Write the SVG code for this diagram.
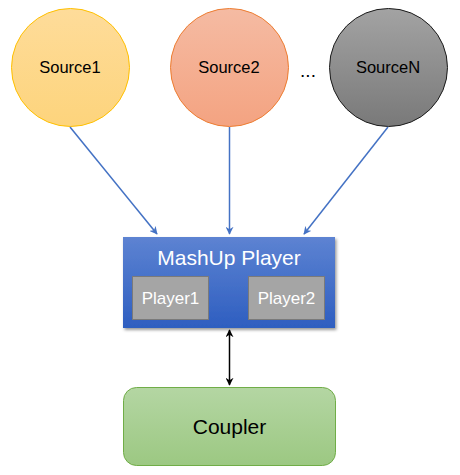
<svg xmlns="http://www.w3.org/2000/svg" width="460" height="475" viewBox="0 0 460 475">
<defs>
<linearGradient id="g1" x1="0" y1="0" x2="0" y2="1"><stop offset="0" stop-color="#FEDC9A"/><stop offset="1" stop-color="#FDD47C"/></linearGradient>
<linearGradient id="g2" x1="0" y1="0" x2="0" y2="1"><stop offset="0" stop-color="#F5BBA3"/><stop offset="1" stop-color="#F4A381"/></linearGradient>
<linearGradient id="g3" x1="0" y1="0" x2="0" y2="1"><stop offset="0" stop-color="#A3A3A3"/><stop offset="1" stop-color="#797979"/></linearGradient>
<linearGradient id="gb" x1="0" y1="0" x2="0" y2="1"><stop offset="0" stop-color="#5D83D2"/><stop offset="1" stop-color="#2E5EC0"/></linearGradient>
<linearGradient id="gg" x1="0" y1="0" x2="0" y2="1"><stop offset="0" stop-color="#B4D6A3"/><stop offset="1" stop-color="#9CC882"/></linearGradient>
<filter id="sh" x="-10%" y="-10%" width="125%" height="130%"><feDropShadow dx="1.5" dy="2" stdDeviation="1.8" flood-color="#000" flood-opacity="0.4"/></filter>
<marker id="ab" viewBox="0 0 10 10" refX="9" refY="5" markerWidth="8" markerHeight="8" markerUnits="userSpaceOnUse" orient="auto"><path d="M0,0 L10,5 L0,10 L3,5 Z" fill="#4472C4"/></marker>
<marker id="ak" viewBox="0 0 10 10" refX="9" refY="5" markerWidth="8" markerHeight="8" markerUnits="userSpaceOnUse" orient="auto-start-reverse"><path d="M0,0 L10,5 L0,10 L3,5 Z" fill="#000"/></marker>
</defs>
<style>
.t{font-family:"Liberation Sans",Arial,sans-serif;text-anchor:middle}
.src{font-size:16.5px;fill:#000}
.w{fill:#fff}
.c{stroke:#4472C4;stroke-width:1.5;fill:none;marker-end:url(#ab)}
</style>
<rect width="460" height="475" fill="#fff"/>
<g id="source1"><circle cx="70.5" cy="67.5" r="59" fill="url(#g1)" stroke="#FFC000" stroke-width="1"/><text class="t src" x="70" y="73">Source1</text></g>
<g id="source2"><circle cx="229.5" cy="67.5" r="59" fill="url(#g2)" stroke="#ED7D31" stroke-width="1"/><text class="t src" x="229" y="73">Source2</text></g>
<g id="dots"><text class="t" x="308" y="77" font-size="19" fill="#000">...</text></g>
<g id="sourceN"><circle cx="388.5" cy="67.5" r="59" fill="url(#g3)" stroke="#1a1a1a" stroke-width="1"/><text class="t src" x="388" y="73">SourceN</text></g>
<g id="connectors">
<line class="c" x1="70" y1="127" x2="157" y2="234"/>
<line class="c" x1="229.5" y1="127" x2="229.5" y2="234"/>
<line class="c" x1="388" y1="127" x2="304" y2="234"/>
<line x1="229.5" y1="330" x2="229.5" y2="385" stroke="#000" stroke-width="1.5" marker-start="url(#ak)" marker-end="url(#ak)"/>
</g>
<g id="mashup">
<rect x="123" y="237" width="212" height="91" fill="url(#gb)" filter="url(#sh)"/>
<text class="t w" x="229" y="265" font-size="21">MashUp Player</text>
</g>
<g id="player1"><rect x="132.5" y="276.5" width="76" height="43" fill="#A5A5A5" stroke="#7a7a7a" stroke-width="1"/><text class="t w" x="170.5" y="304" font-size="17">Player1</text></g>
<g id="player2"><rect x="248.5" y="276.5" width="76" height="43" fill="#A5A5A5" stroke="#7a7a7a" stroke-width="1"/><text class="t w" x="286.5" y="304" font-size="17">Player2</text></g>
<g id="coupler"><rect x="123.5" y="387.5" width="212" height="78" rx="13" fill="url(#gg)" stroke="#70AD47" stroke-width="1"/><text class="t" x="229.5" y="434" font-size="21" fill="#000">Coupler</text></g>
</svg>
